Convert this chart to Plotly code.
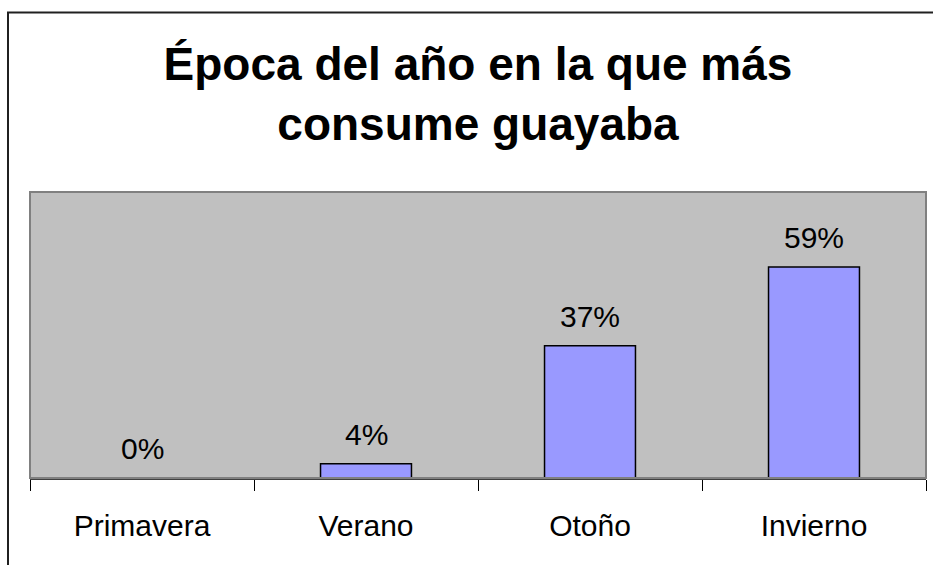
import plotly.graph_objects as go

# -- Datos ---------------------------------------------------------------------
estaciones = ["Primavera", "Verano", "Otoño", "Invierno"]
porcentajes = [0.0, 0.04, 0.37, 0.59]
etiquetas = ["0%", "4%", "37%", "59%"]

TITULO = "Época del año en la que más<br>consume guayaba"
FUENTE = "Liberation Sans, Arial, sans-serif"

# -- Grafico -------------------------------------------------------------------
fig = go.Figure()

fig.add_trace(go.Bar(
    x=estaciones, y=porcentajes,
    marker=dict(color="#9999FF", line=dict(color="black", width=1.5)),
    width=0.406,
    hoverinfo="x+text", hovertext=etiquetas,
))

# etiquetas de datos encima de cada barra
for est, val, etq in zip(estaciones, porcentajes, etiquetas):
    fig.add_annotation(
        x=est, y=val, text=etq, showarrow=False,
        yanchor="bottom", yshift=11,
        font=dict(size=30, family=FUENTE, color="black"),
    )

fig.update_layout(
    width=933, height=565,
    margin=dict(l=30, r=7, t=192, b=87),
    paper_bgcolor="white",
    plot_bgcolor="#C0C0C0",
    showlegend=False,
    font=dict(family=FUENTE, color="black"),
    title=dict(
        text=TITULO, x=478 / 933, xanchor="center",
        yref="container", y=1 - 80 / 565, yanchor="middle",
        font=dict(size=46, family=FUENTE, color="black", weight="bold"),
    ),
    xaxis=dict(
        showline=True, linecolor="#404040", linewidth=2,
        ticks="outside", tickson="boundaries", ticklen=11, tickcolor="black",
        tickfont=dict(size=30, family=FUENTE, color="black"),
        ticklabelstandoff=20,
        showgrid=False,
    ),
    yaxis=dict(
        range=[0, 0.8], showticklabels=False, showgrid=False,
        zeroline=False, ticks="",
    ),
    shapes=[
        # marco exterior
        dict(type="rect", xref="paper", yref="paper",
             x0=-22 / 896, x1=1.2, y0=-0.6, y1=(478 - 12.5) / 286,
             line=dict(color="#202020", width=2), layer="below"),
        # borde del area de trazado
        dict(type="rect", xref="paper", yref="paper",
             x0=0, x1=1, y0=0, y1=1,
             line=dict(color="#808080", width=2)),
    ],
)

fig.write_html(
    "out.html",
    config={"displayModeBar": False},
    post_script="document.body.style.margin='0';document.body.style.overflow='hidden';",
)
